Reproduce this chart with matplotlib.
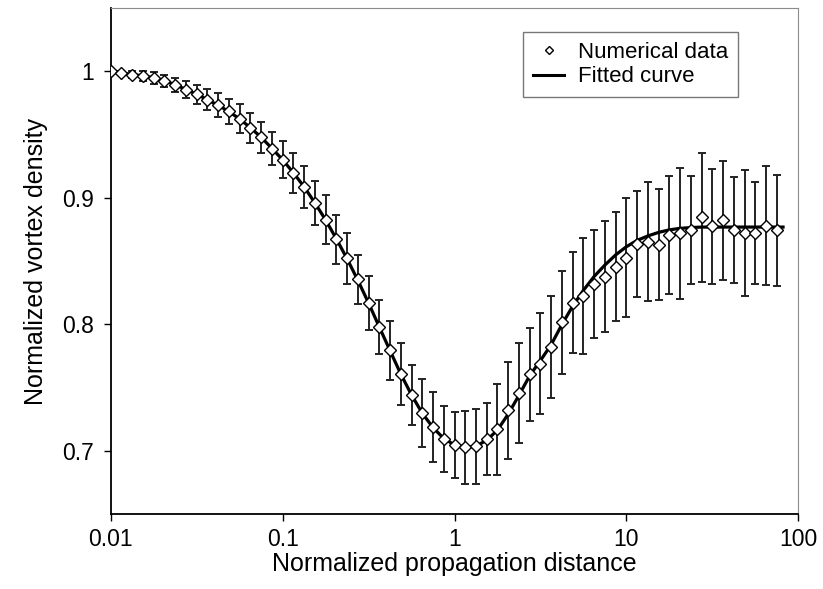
import matplotlib
matplotlib.use("Agg")
import matplotlib.pyplot as plt
from matplotlib.lines import Line2D

plt.rcParams['font.family'] = ['Liberation Sans', 'DejaVu Sans']

# normalized propagation distance (log-spaced sampling)
x_data = [0.01, 0.01155, 0.01334, 0.0154, 0.01778, 0.02054, 0.02371, 0.02738,
          0.03162, 0.03652, 0.04217, 0.0487, 0.05623, 0.06494, 0.07499, 0.0866,
          0.1, 0.1155, 0.1334, 0.154, 0.1778, 0.2054, 0.2371, 0.2738,
          0.3162, 0.3652, 0.4217, 0.487, 0.5623, 0.6494, 0.7499, 0.866,
          1.0, 1.155, 1.334, 1.54, 1.778, 2.054, 2.371, 2.738,
          3.162, 3.652, 4.217, 4.87, 5.623, 6.494, 7.499, 8.66,
          10.0, 11.55, 13.34, 15.4, 17.78, 20.54, 23.71, 27.38,
          31.62, 36.52, 42.17, 48.7, 56.23, 64.94, 74.99]

# numerical data (normalized vortex density)
y_data = [1.0, 0.9986, 0.9976, 0.9965, 0.9949, 0.9925, 0.9891, 0.9857,
          0.982, 0.9778, 0.9737, 0.9684, 0.9627, 0.9556, 0.948, 0.9391,
          0.9304, 0.92, 0.9088, 0.896, 0.8828, 0.8675, 0.8522, 0.8357,
          0.8169, 0.7981, 0.7796, 0.7606, 0.7446, 0.73, 0.719, 0.7096,
          0.7049, 0.7028, 0.7036, 0.7097, 0.7172, 0.732, 0.7457, 0.7606,
          0.769, 0.7825, 0.8016, 0.8171, 0.8227, 0.8319, 0.8377, 0.8457,
          0.8528, 0.8635, 0.8655, 0.8632, 0.8706, 0.8722, 0.8746, 0.8846,
          0.8775, 0.8822, 0.8746, 0.8722, 0.8722, 0.878, 0.8743]

# error bar half-lengths
y_err = [0.0, 0.0015, 0.003, 0.004, 0.0045, 0.005, 0.0055, 0.0069,
         0.0075, 0.0082, 0.0095, 0.010, 0.0115, 0.0119, 0.0123, 0.0132,
         0.0143, 0.0159, 0.0165, 0.0175, 0.0192, 0.0194, 0.0204, 0.0192,
         0.0214, 0.0212, 0.0235, 0.0245, 0.0237, 0.0265, 0.028, 0.026,
         0.026, 0.0286, 0.0295, 0.0284, 0.036, 0.038, 0.0393, 0.0366,
         0.0397, 0.0403, 0.041, 0.040, 0.046, 0.0426, 0.0438, 0.0431,
         0.0468, 0.0419, 0.047, 0.044, 0.0467, 0.0518, 0.0427, 0.0513,
         0.0454, 0.0472, 0.0422, 0.0496, 0.0405, 0.0471, 0.0437]

# fitted curve, read at the same distances plus the end point
x_fit = x_data + [81.5]
y_fit = [1.0, 0.9988, 0.9977, 0.9965, 0.995, 0.9928, 0.9895, 0.9858,
         0.982, 0.9777, 0.9733, 0.9683, 0.9625, 0.9556, 0.948, 0.9393,
         0.9302, 0.92, 0.9088, 0.8962, 0.8827, 0.8677, 0.852, 0.835,
         0.817, 0.798, 0.7793, 0.7608, 0.7443, 0.7298, 0.7185, 0.7098,
         0.7048, 0.7028, 0.7038, 0.7085, 0.7165, 0.7292, 0.744, 0.7595,
         0.7715, 0.784, 0.800, 0.8145, 0.827, 0.838, 0.847, 0.855,
         0.8615, 0.8665, 0.870, 0.8728, 0.8748, 0.876, 0.8766, 0.877,
         0.877, 0.877, 0.877, 0.877, 0.877, 0.877, 0.877, 0.877]

x_ticks = [0.01, 0.1, 1, 10, 100]
x_labels = ['0.01', '0.1', '1', '10', '100']
y_ticks = [0.7, 0.8, 0.9, 1.0]
y_labels = ['0.7', '0.8', '0.9', '1']

fig = plt.figure(figsize=(8.23, 5.89), dpi=100)
ax = fig.add_axes([0.1345, 0.127, 0.8355, 0.859])

ax.plot(x_fit, y_fit, color='black', lw=2.3, zorder=2)
ax.errorbar(x_data, y_data, yerr=y_err, fmt='none', ecolor='#222222',
            elinewidth=1.4, capsize=2.6, capthick=1.4, zorder=1)
ax.plot(x_data, y_data, ls='none', marker='D', ms=5.8, mfc='white',
        mec='black', mew=1.0, zorder=3)

ax.set_xscale('log')
ax.set_xlim(0.01, 100)
ax.set_ylim(0.65, 1.05)
ax.set_xticks(x_ticks)
ax.set_xticklabels(x_labels)
ax.xaxis.set_minor_locator(matplotlib.ticker.NullLocator())
ax.set_yticks(y_ticks)
ax.set_yticklabels(y_labels)
ax.tick_params(axis='both', direction='out', length=5, width=1.0,
               labelsize=16.5, pad=7)
ax.tick_params(axis='x', pad=5)

ax.set_xlabel('Normalized propagation distance', fontsize=18, labelpad=1)
ax.set_ylabel('Normalized vortex density', fontsize=18, labelpad=10)

for side in ['top', 'right']:
    ax.spines[side].set_color('#8c8c8c')
for side in ['left', 'bottom']:
    ax.spines[side].set_linewidth(1.3)

handles = [Line2D([], [], ls='none', marker='D', ms=4.5, mfc='white', mec='black', mew=1.0),
           Line2D([], [], color='black', lw=2.2)]
leg = ax.legend(handles, ['Numerical data', 'Fitted curve'], loc='upper right',
                bbox_to_anchor=(0.912, 0.953), borderaxespad=0, fontsize=16,
                frameon=True, fancybox=False, handlelength=1.4, handletextpad=0.6,
                borderpad=0.45, labelspacing=0.15)
leg.get_frame().set_edgecolor('#555555')
leg.get_frame().set_linewidth(1.0)

plt.savefig('out.png', dpi=100)
